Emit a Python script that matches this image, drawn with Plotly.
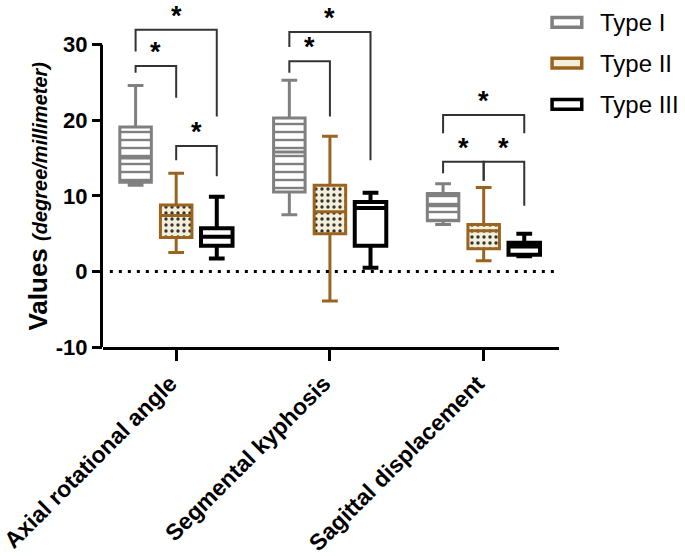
import plotly.graph_objects as go

# ---------------- data ----------------
categories = ["Axial rotational angle", "Segmental kyphosis", "Sagittal displacement"]
types = ["Type I", "Type II", "Type III"]

# five-number summaries (degree / millimeter), one value per category
t1_upper = [24.6, 25.3, 11.6]
t1_q3 = [19.1, 20.3, 10.3]
t1_median = [15.0, 15.8, 8.7]
t1_q1 = [11.8, 10.5, 6.7]
t1_lower = [11.4, 7.5, 6.2]

t2_upper = [13.0, 17.9, 11.1]
t2_q3 = [8.8, 11.4, 6.2]
t2_median = [7.4, 7.9, 5.4]
t2_q1 = [4.5, 5.0, 3.0]
t2_lower = [2.5, -3.9, 1.4]

t3_upper = [9.9, 10.4, 5.0]
t3_q3 = [5.7, 9.2, 3.8]
t3_median = [4.6, 8.4, 3.3]
t3_q1 = [3.4, 3.4, 2.2]
t3_lower = [1.7, 0.5, 2.0]

y_tick_vals = [-10, 0, 10, 20, 30]
y_tick_labels = ["-10", "0", "10", "20", "30"]

# significance brackets: category index, from type, to type, bar height, left end, right end
br_cat = [0, 0, 0, 1, 1, 2, 2, 2]
br_from = [0, 0, 1, 0, 0, 0, 0, 1]
br_to = [1, 2, 2, 1, 2, 2, 1, 2]
br_top = [27.2, 32.0, 16.6, 27.8, 31.7, 20.7, 14.5, 14.5]
br_left_end = [26.3, 29.1, 14.7, 26.3, 29.7, 18.3, 13.0, 12.0]
br_right_end = [23.0, 20.5, 12.6, 20.5, 14.7, 18.3, 12.0, 8.7]
br_label = ["*"] * 8

# ---------------- style ----------------
FONT = "Arial, 'Liberation Sans', Helvetica, sans-serif"
GRAY = "#808080"
BROWN = "#9a6420"
BLACK = "#000000"
CREAM = "#f4efd9"
OFFSETS = [-0.264, 0.0, 0.264]
BOX_W = 0.205

FIG_W, FIG_H = 685, 556
M_L, PLOT_W = 98, 461
M_T, PLOT_H = 0, 349
PX_PER_UNIT = 7.6
Y_MIN = -10
Y_MAX = Y_MIN + PLOT_H / PX_PER_UNIT

summaries = [
    (t1_q1, t1_median, t1_q3, t1_lower, t1_upper),
    (t2_q1, t2_median, t2_q3, t2_lower, t2_upper),
    (t3_q1, t3_median, t3_q3, t3_lower, t3_upper),
]
colors = [GRAY, BROWN, BLACK]
line_w = [3, 3, 4]

fig = go.Figure()

# patterned fills (drawn under the boxes)
patterns = [
    dict(shape="-", fgcolor=GRAY, bgcolor="white", size=8, solidity=0.3, fillmode="replace"),
    dict(shape=".", fgcolor="#333333", bgcolor=CREAM, size=6, solidity=0.25, fillmode="replace"),
    None,
]
for k in range(3):
    q1, med, q3, lo, hi = summaries[k]
    xs = [i + OFFSETS[k] for i in range(len(categories))]
    if patterns[k] is not None:
        fig.add_trace(go.Bar(
            x=xs, y=[b - a for a, b in zip(q1, q3)], base=q1, width=BOX_W,
            marker=dict(color="white", pattern=patterns[k], line=dict(width=0)),
            showlegend=False, hoverinfo="skip",
        ))

for k in range(3):
    q1, med, q3, lo, hi = summaries[k]
    xs = [i + OFFSETS[k] for i in range(len(categories))]
    fig.add_trace(go.Box(
        name=types[k], x=xs, q1=q1, median=med, q3=q3,
        lowerfence=lo, upperfence=hi, width=BOX_W, whiskerwidth=0.5,
        boxpoints=False,
        fillcolor="rgba(0,0,0,0)" if patterns[k] is not None else "white",
        line=dict(color=colors[k], width=line_w[k]),
        showlegend=False,
    ))

# brackets with stars
for c, a, b, top, le, re, lab in zip(br_cat, br_from, br_to, br_top, br_left_end, br_right_end, br_label):
    xa = c + OFFSETS[a]
    xb = c + OFFSETS[b]
    fig.add_trace(go.Scatter(
        x=[xa, xa, xb, xb], y=[le, top, top, re], mode="lines",
        line=dict(color="#333333", width=2),
        showlegend=False, hoverinfo="skip",
    ))
    fig.add_annotation(
        x=(xa + xb) / 2, y=top, text="<b>" + lab + "</b>", showarrow=False,
        yanchor="bottom", yshift=-2, borderpad=0,
        font=dict(family=FONT, size=27, color=BLACK),
    )

# y axis line only over the labelled range
fig.add_shape(type="line", xref="paper", yref="y", x0=-0.0033, x1=-0.0033,
              y0=y_tick_vals[0], y1=y_tick_vals[-1], line=dict(color=BLACK, width=3))

# dotted zero line
fig.add_shape(type="line", xref="paper", yref="y", x0=0.015, x1=1, y0=0, y1=0,
              line=dict(color=BLACK, width=3, dash="3px,6px"))


def px_x(p):  # page pixel -> paper x
    return (p - M_L) / PLOT_W


def px_y(p):  # page pixel -> paper y
    return (M_T + PLOT_H - p) / PLOT_H


# y axis title
fig.add_annotation(
    xref="paper", yref="y", x=px_x(32), y=(y_tick_vals[0] + y_tick_vals[-1]) / 2,
    textangle=-90, xanchor="center", yanchor="middle", showarrow=False,
    text="<b>Values</b> <b><i><span style='font-size:20px'>(degree/millimeter)</span></i></b>",
    font=dict(family=FONT, size=26, color=BLACK),
)

# legend
leg_centers = [22.5, 63.5, 105]
leg_fill = ["white", CREAM, "white"]
for k in range(3):
    cy = leg_centers[k]
    fig.add_shape(type="rect", xref="paper", yref="paper",
                  x0=px_x(552), x1=px_x(582), y0=px_y(cy + 5), y1=px_y(cy - 5),
                  fillcolor=leg_fill[k], line=dict(color=colors[k], width=3.5))
    fig.add_annotation(xref="paper", yref="paper", x=px_x(598), y=px_y(cy),
                       xanchor="left", yanchor="middle", showarrow=False,
                       text=types[k], font=dict(family=FONT, size=24, color=BLACK))

fig.update_layout(
    width=FIG_W, height=FIG_H,
    margin=dict(l=M_L, r=FIG_W - M_L - PLOT_W, t=M_T, b=FIG_H - M_T - PLOT_H),
    paper_bgcolor="white", plot_bgcolor="white",
    showlegend=False,
    barmode="overlay",
    font=dict(family=FONT, color=BLACK),
    xaxis=dict(
        range=[-0.476, 2.49], tickmode="array", tickvals=list(range(len(categories))),
        ticktext=categories, tickangle=-45, ticklabelshift=-6, ticklabeloverflow="allow",
        tickfont=dict(family=FONT, size=23, color=BLACK, weight="bold"),
        showline=True, linewidth=3, linecolor=BLACK, ticks="outside", ticklen=11,
        tickwidth=3, tickcolor=BLACK, showgrid=False, zeroline=False,
    ),
    yaxis=dict(
        range=[Y_MIN, Y_MAX], tickmode="array", tickvals=y_tick_vals, ticktext=y_tick_labels,
        tickfont=dict(family=FONT, size=22, color=BLACK, weight="bold"),
        showline=False, ticks="outside", ticklen=10,
        tickwidth=3, tickcolor=BLACK, showgrid=False, zeroline=False,
    ),
)

# remove the browser's default 8px body margin so the figure fills the window
fig.write_html("out.html", config={"displayModeBar": False},
               post_script="document.body.style.margin='0px';")
